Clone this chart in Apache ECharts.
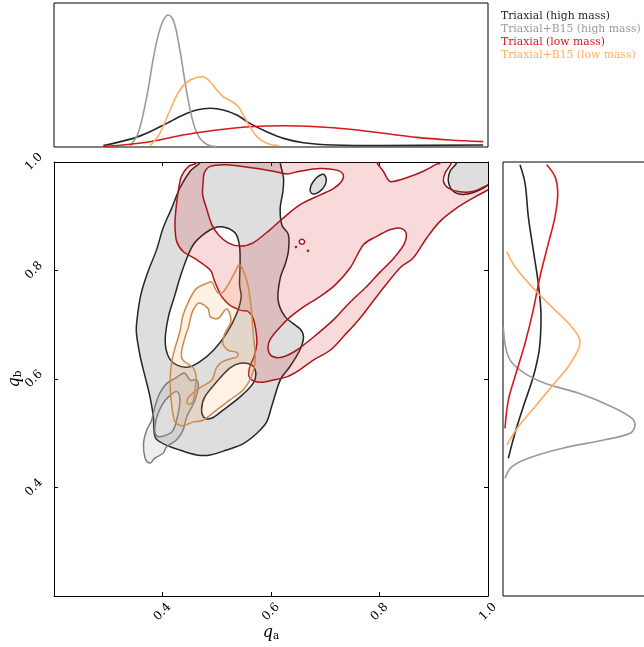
<!DOCTYPE html>
<html><head><meta charset="utf-8">
<script src="https://cdn.jsdelivr.net/npm/echarts@6/dist/echarts.min.js"></script>
<style>html,body{margin:0;padding:0;background:#fff}#c{width:644px;height:647px}</style>
</head><body><div id="c"></div>
<script>
// ---------- legend / labels ----------
const legendNames = ['Triaxial (high mass)', 'Triaxial+B15 (high mass)', 'Triaxial (low mass)', 'Triaxial+B15 (low mass)'];
const tickLabels = ['0.4', '0.6', '0.8', '1.0'];
const axisRange = [0.2, 1.0];

// ---------- top marginal: [q_a, density] ----------
const topHighMass = [[0.291,0.01],[0.346,0.06],[0.377,0.106],[0.408,0.164],[0.438,0.222],[0.463,0.257],[0.488,0.269],[0.512,0.257],[0.537,0.222],[0.561,0.164],[0.592,0.106],[0.623,0.06],[0.660,0.03],[0.715,0.014],[0.807,0.01],[0.991,0.014]];
const topB15High = [[0.340,0.006],[0.355,0.095],[0.371,0.35],[0.386,0.674],[0.399,0.859],[0.411,0.917],[0.421,0.870],[0.432,0.674],[0.445,0.373],[0.457,0.164],[0.469,0.06],[0.484,0.014],[0.500,0.002]];
const topLowMass = [[0.291,0.003],[0.377,0.037],[0.438,0.083],[0.500,0.118],[0.561,0.141],[0.623,0.148],[0.684,0.141],[0.746,0.123],[0.807,0.095],[0.869,0.067],[0.930,0.049],[0.991,0.037]];
const topB15Low = [[0.377,0.007],[0.395,0.095],[0.414,0.257],[0.432,0.396],[0.451,0.465],[0.474,0.488],[0.488,0.453],[0.500,0.396],[0.512,0.349],[0.528,0.315],[0.540,0.280],[0.549,0.222],[0.561,0.141],[0.574,0.072],[0.592,0.026],[0.615,0.009]];

// ---------- right marginal: [density, q_b] ----------
const rightHighMass = [[0.118,0.995],[0.153,0.961],[0.176,0.899],[0.21,0.838],[0.245,0.776],[0.264,0.715],[0.252,0.654],[0.21,0.604],[0.141,0.549],[0.083,0.500],[0.037,0.454]];
const rightB15High = [[0.002,0.696],[0.037,0.641],[0.13,0.614],[0.292,0.592],[0.523,0.574],[0.755,0.549],[0.894,0.528],[0.917,0.515],[0.882,0.500],[0.708,0.488],[0.407,0.472],[0.176,0.454],[0.06,0.438],[0.014,0.417]];
const rightLowMass = [[0.303,0.995],[0.361,0.973],[0.38,0.942],[0.361,0.899],[0.315,0.850],[0.257,0.789],[0.21,0.727],[0.153,0.666],[0.083,0.604],[0.037,0.561],[0.014,0.509]];
const rightB15Low = [[0.026,0.835],[0.083,0.807],[0.222,0.764],[0.361,0.727],[0.477,0.696],[0.535,0.669],[0.523,0.654],[0.454,0.623],[0.338,0.586],[0.222,0.549],[0.106,0.512],[0.026,0.478]];

// ---------- 2D contours: [q_a, q_b] ----------
// Triaxial (high mass)
const highMassOuter = [[0.475,1.022],[0.469,0.999],[0.451,0.983],[0.432,0.952],[0.417,0.915],[0.401,0.878],[0.389,0.838],[0.373,0.797],[0.360,0.755],[0.353,0.709],[0.352,0.684],[0.359,0.641],[0.368,0.604],[0.377,0.567],[0.383,0.531],[0.386,0.494],[0.401,0.481],[0.432,0.469],[0.463,0.460],[0.488,0.460],[0.518,0.469],[0.549,0.481],[0.574,0.500],[0.592,0.521],[0.602,0.552],[0.617,0.598],[0.635,0.623],[0.653,0.653],[0.660,0.678],[0.653,0.693],[0.626,0.715],[0.613,0.746],[0.617,0.786],[0.626,0.811],[0.632,0.835],[0.632,0.866],[0.620,0.884],[0.617,0.915],[0.622,0.946],[0.623,0.971],[0.617,0.999],[0.617,1.022]];
const highMassHole1 = [[0.475,0.866],[0.494,0.878],[0.512,0.880],[0.534,0.869],[0.542,0.845],[0.543,0.811],[0.542,0.774],[0.545,0.751],[0.537,0.721],[0.518,0.684],[0.494,0.653],[0.469,0.632],[0.448,0.622],[0.426,0.626],[0.411,0.641],[0.405,0.672],[0.411,0.715],[0.423,0.755],[0.432,0.786],[0.445,0.823],[0.457,0.848]];
const highMassHole2 = [[0.543,0.629],[0.564,0.626],[0.572,0.611],[0.567,0.592],[0.543,0.567],[0.512,0.543],[0.491,0.528],[0.478,0.528],[0.472,0.543],[0.478,0.567],[0.500,0.595],[0.524,0.620]];
const highMassCorner = [[0.952,1.022],[0.942,0.998],[0.930,0.983],[0.927,0.964],[0.936,0.946],[0.954,0.940],[0.979,0.946],[1.001,0.958],[1.022,0.971],[1.022,1.022]];
const highMassIsland = [[0.693,0.977],[0.701,0.972],[0.700,0.958],[0.690,0.946],[0.678,0.941],[0.672,0.949],[0.678,0.964]];

// Triaxial+B15 (high mass)
const b15HighOuter = [[0.432,0.607],[0.441,0.611],[0.451,0.598],[0.463,0.598],[0.466,0.586],[0.460,0.561],[0.445,0.531],[0.438,0.506],[0.426,0.488],[0.408,0.475],[0.401,0.463],[0.386,0.454],[0.377,0.445],[0.368,0.454],[0.365,0.481],[0.371,0.506],[0.380,0.524],[0.386,0.549],[0.395,0.574],[0.408,0.592],[0.423,0.601]];
const b15HighInner = [[0.411,0.567],[0.426,0.577],[0.432,0.564],[0.429,0.537],[0.420,0.506],[0.408,0.497],[0.392,0.494],[0.386,0.503],[0.389,0.528],[0.399,0.552]];

// Triaxial (low mass)
const lowMassOuter = [[0.469,1.022],[0.463,0.999],[0.448,0.992],[0.435,0.974],[0.429,0.946],[0.425,0.915],[0.423,0.884],[0.426,0.854],[0.438,0.835],[0.463,0.820],[0.488,0.801],[0.495,0.783],[0.503,0.764],[0.509,0.752],[0.524,0.736],[0.543,0.727],[0.558,0.724],[0.567,0.712],[0.572,0.690],[0.574,0.666],[0.569,0.642],[0.561,0.623],[0.559,0.606],[0.565,0.598],[0.580,0.594],[0.604,0.598],[0.629,0.604],[0.653,0.617],[0.678,0.635],[0.709,0.653],[0.736,0.681],[0.764,0.712],[0.801,0.760],[0.838,0.805],[0.862,0.823],[0.887,0.860],[0.912,0.891],[0.942,0.915],[0.973,0.934],[1.001,0.949],[1.022,0.961],[1.022,1.022]];
const lowMassHoleA = [[0.595,0.653],[0.598,0.672],[0.617,0.696],[0.635,0.714],[0.660,0.733],[0.690,0.752],[0.718,0.773],[0.746,0.805],[0.770,0.847],[0.795,0.863],[0.819,0.875],[0.838,0.878],[0.849,0.869],[0.845,0.848],[0.825,0.821],[0.801,0.797],[0.776,0.770],[0.746,0.742],[0.715,0.709],[0.678,0.677],[0.647,0.653],[0.623,0.641],[0.604,0.641]];
const lowMassHoleB = [[0.477,0.980],[0.475,0.964],[0.474,0.940],[0.481,0.915],[0.491,0.884],[0.503,0.866],[0.521,0.851],[0.543,0.845],[0.567,0.851],[0.598,0.875],[0.623,0.897],[0.653,0.921],[0.690,0.939],[0.715,0.951],[0.730,0.964],[0.733,0.977],[0.721,0.985],[0.690,0.988],[0.653,0.983],[0.629,0.978],[0.604,0.983],[0.567,0.989],[0.518,0.995],[0.488,0.992]];
const lowMassHoleC = [[0.786,1.022],[0.795,0.999],[0.807,0.983],[0.816,0.967],[0.825,0.964],[0.850,0.971],[0.881,0.983],[0.905,0.996],[0.912,0.999],[0.919,1.022]];
const lowMassHoleD = [[0.935,1.022],[0.933,0.999],[0.921,0.980],[0.918,0.964],[0.927,0.952],[0.948,0.945],[0.973,0.946],[0.998,0.957],[1.022,0.971],[1.022,1.022]];
const lowMassSmallRing = [[0.662,0.853],[0.6595,0.857],[0.6545,0.857],[0.652,0.853],[0.6545,0.849],[0.6595,0.849]];
const lowMassDot1 = [[0.647,0.844],[0.645,0.844],[0.646,0.842]];
const lowMassDot2 = [[0.669,0.837],[0.667,0.837],[0.668,0.835]];

// Triaxial+B15 (low mass)
const b15LowOuter = [[0.451,0.749],[0.463,0.767],[0.481,0.776],[0.491,0.779],[0.497,0.767],[0.503,0.758],[0.512,0.761],[0.524,0.779],[0.534,0.798],[0.543,0.810],[0.556,0.779],[0.563,0.736],[0.567,0.687],[0.571,0.635],[0.564,0.604],[0.549,0.580],[0.524,0.561],[0.500,0.543],[0.475,0.524],[0.457,0.521],[0.438,0.514],[0.423,0.521],[0.417,0.552],[0.414,0.595],[0.417,0.632],[0.423,0.657],[0.432,0.687],[0.438,0.718]];
const b15LowInner = [[0.469,0.740],[0.484,0.730],[0.488,0.715],[0.503,0.712],[0.515,0.727],[0.521,0.727],[0.526,0.706],[0.515,0.684],[0.511,0.666],[0.521,0.653],[0.537,0.649],[0.538,0.641],[0.524,0.637],[0.509,0.631],[0.499,0.620],[0.491,0.598],[0.472,0.586],[0.457,0.575],[0.446,0.563],[0.447,0.554],[0.456,0.558],[0.460,0.580],[0.462,0.604],[0.457,0.620],[0.445,0.629],[0.436,0.637],[0.435,0.650],[0.441,0.675],[0.448,0.696],[0.454,0.721],[0.462,0.736]];

// ---------- styles ----------
const lineColors = ['#262626', '#9a9a9a', '#d7191c', '#fdae61'];
const contourStroke = ['#262626', '#7e7e7e', '#a8161b', '#c98b4e'];
const contourFill = ['rgba(34,34,34,0.15)', 'rgba(150,150,150,0.16)', 'rgba(215,25,28,0.16)', 'rgba(253,174,97,0.17)'];
const serif = '"DejaVu Serif", serif';

const contourSets = [
  [[highMassOuter, highMassHole1, highMassHole2], [highMassCorner], [highMassIsland]],
  [[b15HighOuter, b15HighInner]],
  [[lowMassOuter, lowMassHoleA, lowMassHoleB, lowMassHoleC, lowMassHoleD, lowMassSmallRing, lowMassDot1, lowMassDot2]],
  [[b15LowOuter, b15LowInner]]
];

function signedArea(pts) {
  let a = 0;
  for (let i = 0; i < pts.length; i++) {
    const p = pts[i], q = pts[(i + 1) % pts.length];
    a += p[0] * q[1] - q[0] * p[1];
  }
  return a / 2;
}
function f(v) { return v.toFixed(2); }
function ringPath(pts) {
  const n = pts.length;
  let d = 'M' + f(pts[0][0]) + ' ' + f(pts[0][1]);
  for (let i = 0; i < n; i++) {
    const p0 = pts[(i - 1 + n) % n], p1 = pts[i], p2 = pts[(i + 1) % n], p3 = pts[(i + 2) % n];
    const c1 = [p1[0] + (p2[0] - p0[0]) / 6, p1[1] + (p2[1] - p0[1]) / 6];
    const c2 = [p2[0] - (p3[0] - p1[0]) / 6, p2[1] - (p3[1] - p1[1]) / 6];
    d += ' C' + f(c1[0]) + ' ' + f(c1[1]) + ' ' + f(c2[0]) + ' ' + f(c2[1]) + ' ' + f(p2[0]) + ' ' + f(p2[1]);
  }
  return d + ' Z ';
}
function contourSeries(k) {
  return {
    type: 'custom', name: legendNames[k] + ' 2d', xAxisIndex: 0, yAxisIndex: 0,
    clip: true, silent: true, z: 2 + k,
    data: [[0.6, 0.6]],
    renderItem: function (params, api) {
      let d = '';
      contourSets[k].forEach(function (piece) {
        piece.forEach(function (ring, r) {
          let pts = ring.map(function (p) { return api.coord(p); });
          const a = signedArea(pts);
          if ((r === 0 && a < 0) || (r > 0 && a > 0)) pts = pts.slice().reverse();
          d += ringPath(pts);
        });
      });
      return { type: 'path', shape: { pathData: d },
        style: { fill: contourFill[k], stroke: contourStroke[k], lineWidth: 1.5 } };
    }
  };
}

const topData = [topHighMass, topB15High, topLowMass, topB15Low];
const rightData = [rightHighMass, rightB15High, rightLowMass, rightB15Low];
const series = [];
for (let k = 0; k < 4; k++) series.push(contourSeries(k));
for (let k = 0; k < 4; k++) series.push({
  type: 'line', name: legendNames[k], xAxisIndex: 2, yAxisIndex: 2, data: topData[k],
  showSymbol: false, smooth: 0.35, lineStyle: { color: lineColors[k], width: 1.6 }, silent: true
});
for (let k = 0; k < 4; k++) series.push({
  type: 'line', name: legendNames[k] + ' r', xAxisIndex: 3, yAxisIndex: 3, data: rightData[k],
  showSymbol: false, smooth: 0.35, lineStyle: { color: lineColors[k], width: 1.6 }, silent: true
});

function tickFmt(v) {
  const s = v.toFixed(1);
  return tickLabels.indexOf(s) >= 0 ? s : '';
}
const mainAxisCommon = {
  type: 'value', min: axisRange[0], max: axisRange[1], interval: 0.2, gridIndex: 0,
  axisLine: { show: true, onZero: false, lineStyle: { color: '#000', width: 1 } },
  axisTick: { show: true, inside: true, length: 4, lineStyle: { color: '#000' } },
  splitLine: { show: false }
};
const nameRich = {
  q: { fontFamily: serif, fontStyle: 'italic', fontSize: 16, color: '#000' },
  s: { fontFamily: serif, fontSize: 10.5, color: '#000', verticalAlign: 'bottom', padding: [7, 0, 0, 0] }
};

const option = {
  animation: false,
  backgroundColor: '#fff',
  grid: [
    { left: 54, top: 162, width: 434, height: 434, outerBoundsMode: 'none', containLabel: false },
    { left: 54, top: 3, width: 434, height: 144, show: true, borderColor: '#000', borderWidth: 1, outerBoundsMode: 'none', containLabel: false },
    { left: 503, top: 162, width: 144, height: 434, show: true, borderColor: '#000', borderWidth: 1, outerBoundsMode: 'none', containLabel: false }
  ],
  xAxis: [
    Object.assign({}, mainAxisCommon, {
      position: 'bottom',
      axisLabel: { show: true, rotate: 45, align: 'center', verticalAlign: 'middle', margin: 16,
        formatter: tickFmt, color: '#000', fontFamily: serif, fontSize: 12 },
      name: '{q|q}{s|a}', nameLocation: 'middle', nameGap: 28, nameMoveOverlap: false,
      nameTextStyle: { rich: nameRich }
    }),
    Object.assign({}, mainAxisCommon, { position: 'top', axisLabel: { show: false } }),
    { type: 'value', gridIndex: 1, min: axisRange[0], max: axisRange[1], show: false },
    { type: 'value', gridIndex: 2, min: 0, max: 1, show: false }
  ],
  yAxis: [
    Object.assign({}, mainAxisCommon, {
      position: 'left',
      axisLabel: { show: true, rotate: 45, align: 'center', verticalAlign: 'middle', margin: 20,
        formatter: tickFmt, color: '#000', fontFamily: serif, fontSize: 12 },
      name: '{q|q}{s|b}', nameLocation: 'middle', nameGap: 30, nameRotate: 90, nameMoveOverlap: false,
      nameTextStyle: { rich: nameRich }
    }),
    Object.assign({}, mainAxisCommon, { position: 'right', axisLabel: { show: false } }),
    { type: 'value', gridIndex: 1, min: 0, max: 1, show: false },
    { type: 'value', gridIndex: 2, min: axisRange[0], max: axisRange[1], show: false }
  ],
  graphic: legendNames.map(function (name, k) {
    return { type: 'text', x: 501, y: 16.5 + k * 12.8,
      style: { text: name, fill: lineColors[k], font: '10.8px ' + serif, verticalAlign: 'middle' } };
  }),
  series: series
};

const chart = echarts.init(document.getElementById('c'), null, { renderer: 'canvas' });
chart.setOption(option);
</script>
</body></html>
